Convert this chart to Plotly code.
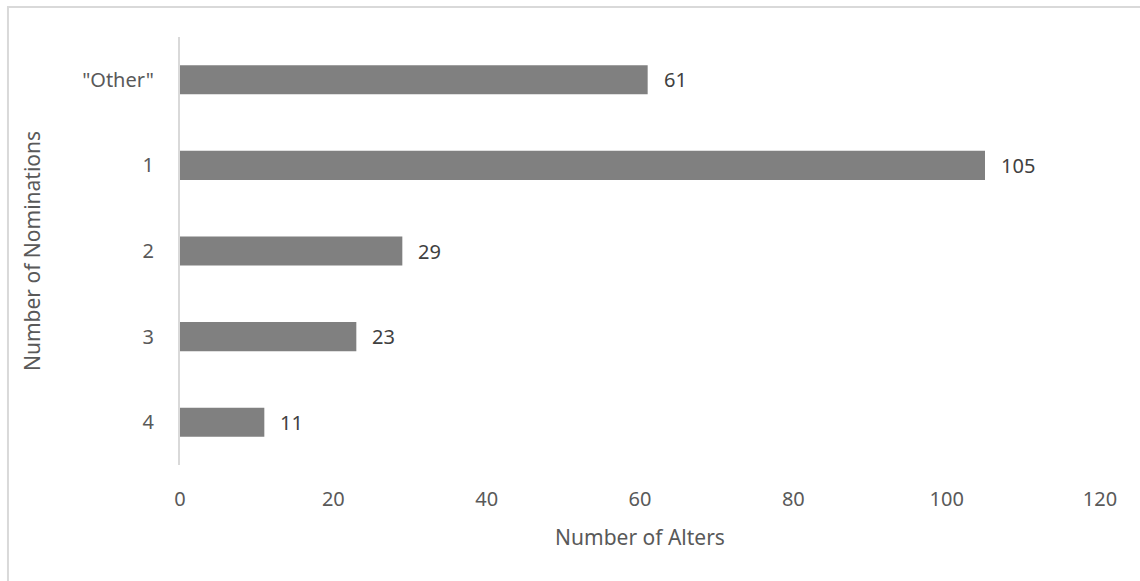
import plotly.graph_objects as go

# Nomination categories, listed top to bottom
categories = ['"Other"', "1", "2", "3", "4"]
alters = [61, 105, 29, 23, 11]
x_ticks = [0, 20, 40, 60, 80, 100, 120]

TEXT = "#595959"
LABEL = "#404040"
GRID = "#d9d9d9"
FONT = "Noto Sans"

# Bottom-to-top order used by the category axis
axis_order = categories[::-1]

fig = go.Figure(
    go.Bar(
        x=alters,
        y=categories,
        orientation="h",
        marker=dict(color="#808080", line=dict(width=0)),
        width=0.34,
        hoverinfo="x+y",
    )
)

# Value labels just past the end of each bar (y given as category index,
# since the numeric-looking names would otherwise be read as positions)
for cat, val in zip(categories, alters):
    fig.add_annotation(
        x=val, y=axis_order.index(cat), xref="x", yref="y",
        text=str(val), showarrow=False,
        xanchor="left", xshift=14,
        font=dict(family=FONT, size=20, color=LABEL),
    )

fig.update_layout(
    width=1140,
    height=581,
    margin=dict(l=180, r=40, t=37, b=116),
    paper_bgcolor="white",
    plot_bgcolor="white",
    showlegend=False,
    font=dict(family=FONT, size=20, color=TEXT),
    xaxis=dict(
        range=[0, 120],
        tickvals=x_ticks,
        ticktext=[str(t) for t in x_ticks],
        showgrid=False,
        zeroline=False,
        showline=False,
        ticks="",
        ticklabelstandoff=20,
        tickfont=dict(family=FONT, size=20, color=TEXT),
        title=dict(text="Number of Alters", standoff=19,
                   font=dict(family=FONT, size=21, color=TEXT)),
    ),
    yaxis=dict(
        type="category",
        categoryorder="array",
        categoryarray=axis_order,
        showgrid=False,
        zeroline=False,
        showline=True,
        linecolor=GRID,
        linewidth=2,
        ticks="",
        ticklabelstandoff=20,
        tickfont=dict(family=FONT, size=20, color=TEXT),
        title=dict(text="Number of Nominations", standoff=36,
                   font=dict(family=FONT, size=21, color=TEXT)),
    ),
)

# Light frame around the chart area
fig.add_shape(
    type="rect",
    xref="paper", yref="paper",
    x0=-0.187, x1=1.2, y0=-0.5, y1=1.07,
    line=dict(color=GRID, width=2),
    fillcolor="rgba(0,0,0,0)",
    layer="below",
)

fig.write_html("out.html")
